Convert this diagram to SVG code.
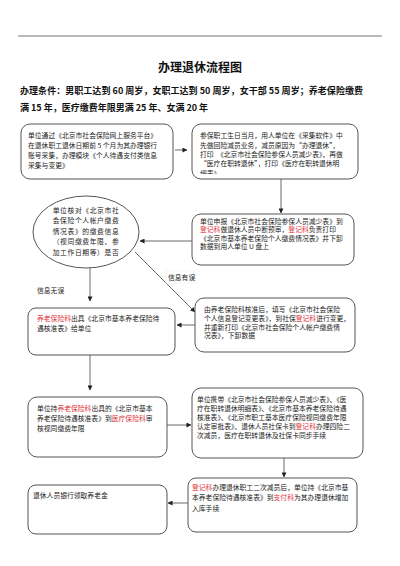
<svg xmlns="http://www.w3.org/2000/svg" width="400" height="566" viewBox="0 0 400 566">
<style>
.t{font-family:"Noto Sans CJK SC","Noto Sans",sans-serif;font-size:6.8px;fill:#222;}
.r{fill:#e0303a;}
.b{fill:#fff;stroke:#555;stroke-width:1;}
.c{stroke:#444;stroke-width:0.8;fill:none;marker-end:url(#ah);}
.h{font-family:"Noto Sans CJK SC","Noto Sans",sans-serif;font-weight:bold;fill:#111;}
</style>
<defs>
<marker id="ah" viewBox="0 0 6 6" refX="5.5" refY="3" markerWidth="5" markerHeight="5" orient="auto" markerUnits="userSpaceOnUse">
<path d="M0,0 L6,3 L0,6 Z" fill="#222"/>
</marker>
<clipPath id="c2"><rect x="193" y="124" width="165" height="50"/></clipPath>
</defs>
<rect width="400" height="566" fill="#fff"/>
<line x1="18" y1="36" x2="382" y2="36" stroke="#777" stroke-width="1"/>
<g id="title">
<text class="h" x="200" y="72" font-size="12" text-anchor="middle">办理退休流程图</text>
<text class="h" x="20" y="94" font-size="9" textLength="343">办理条件：男职工达到 60 周岁，女职工达到 50 周岁，女干部 55 周岁；养老保险缴费</text>
<text class="h" x="20" y="111" font-size="9">满 15 年，医疗缴费年限男满 25 年、女满 20 年</text>
</g>
<g id="connectors">
<line class="c" x1="175" y1="150" x2="187" y2="150"/>
<line class="c" x1="281" y1="179" x2="281" y2="213"/>
<line class="c" x1="192" y1="241" x2="140" y2="241"/>
<line class="c" x1="90" y1="268" x2="90" y2="301"/>
<line class="c" x1="135" y1="252" x2="195" y2="312"/>
<line class="c" x1="195" y1="325" x2="177" y2="325"/>
<line class="c" x1="90" y1="355" x2="90" y2="390"/>
<line class="c" x1="167" y1="425" x2="191" y2="425"/>
<line class="c" x1="284" y1="458" x2="284" y2="477"/>
<line class="c" x1="188" y1="503" x2="168" y2="503"/>
<rect x="166" y="271" width="28" height="12" fill="#fff" stroke="#eee" stroke-width="0.6"/>
<text class="t" x="168" y="279.5">信息有误</text>
<text class="t" x="37" y="293">信息无误</text>
</g>
<g id="n1">
<rect class="b" x="21" y="124" width="152" height="55" rx="9"/>
<text class="t" x="28" y="137.5">单位通过《北京市社会保险网上服务平台》</text>
<text class="t" x="28" y="147.5">在退休职工退休日期前 5 个月为其办理银行</text>
<text class="t" x="28" y="157.5">账号采集，办理模块《个人待遇支付类信息</text>
<text class="t" x="28" y="167.5">采集与变更》</text>
</g>
<g id="n2">
<rect class="b" x="192" y="124" width="166" height="55" rx="9"/>
<g clip-path="url(#c2)">
<text class="t" x="200" y="137.5">参保职工生日当月，用人单位在《采集软件》中</text>
<text class="t" x="200" y="147.5">先做回险减员业务，减员原因为“办理退休”，</text>
<text class="t" x="200" y="156.8">打印　《北京市社会保险参保人员减少表》，再做</text>
<text class="t" x="200" y="165.8">“医疗在职转退休”，打印《医疗在职转退休明</text>
<text class="t" x="200" y="176">细表》</text>
</g>
</g>
<g id="n3">
<rect class="b" x="192" y="214" width="162" height="51" rx="9"/>
<text class="t" x="200" y="223.5">单位申报《北京市社会保险参保人员减少表》到</text>
<text class="t" x="200" y="232"><tspan class="r">登记科</tspan>做退休人员中断预审，<tspan class="r">登记科</tspan>负责打印</text>
<text class="t" x="200" y="240.5">《北京市基本养老保险个人缴费情况表》并下卸</text>
<text class="t" x="200" y="249">数据到用人单位 U 盘上</text>
</g>
<g id="n4">
<ellipse class="b" cx="86" cy="232" rx="53" ry="36"/>
<text class="t" x="86" y="212.5" text-anchor="middle" letter-spacing="0.6">单位核对《北京市社</text>
<text class="t" x="86" y="223" text-anchor="middle" letter-spacing="0.6">会保险个人帐户缴费</text>
<text class="t" x="86" y="233.5" text-anchor="middle" letter-spacing="0.6">情况表》的缴费信息</text>
<text class="t" x="86" y="244" text-anchor="middle" letter-spacing="0.6">（视同缴费年限、参</text>
<text class="t" x="86" y="254.5" text-anchor="middle" letter-spacing="0.6">加工作日期等）是否</text>
</g>
<g id="n5">
<rect class="b" x="195" y="298" width="160" height="54" rx="9"/>
<text class="t" x="204" y="311.5">由养老保险科核准后，填写《北京市社会保险</text>
<text class="t" x="204" y="320.5">个人信息登记变更表》，到社保<tspan class="r">登记科</tspan>进行变更，</text>
<text class="t" x="204" y="329.5">并重新打印《北京市社会保险个人帐户缴费情</text>
<text class="t" x="204" y="338">况表》，下卸数据</text>
</g>
<g id="n6">
<rect class="b" x="28" y="308" width="147" height="47" rx="8"/>
<text class="t" x="37" y="320.5"><tspan class="r">养老保险科</tspan>出具《北京市基本养老保险待</text>
<text class="t" x="37" y="330.5">遇核准表》给单位</text>
</g>
<g id="n7">
<rect class="b" x="28" y="397" width="139" height="60" rx="9"/>
<text class="t" x="37" y="410.5">单位持<tspan class="r">养老保险科</tspan>出具的《北京市基本</text>
<text class="t" x="37" y="420.5">养老保险待遇核准表》到<tspan class="r">医疗保险科</tspan>审</text>
<text class="t" x="37" y="430.5">核视同缴费年限</text>
</g>
<g id="n8">
<rect class="b" x="192" y="388" width="171" height="70" rx="9"/>
<text class="t" x="197" y="401.5">单位携带《北京市社会保险参保人员减少表》、《医</text>
<text class="t" x="197" y="410.5">疗在职转退休明细表》、《北京市基本养老保险待遇</text>
<text class="t" x="197" y="419.5">核准表》、《北京市职工基本医疗保险视同缴费年限</text>
<text class="t" x="197" y="428.5">认定审批表》、退休人员社保卡到<tspan class="r">登记科</tspan>办理四险二</text>
<text class="t" x="197" y="437.5">次减员，医疗在职转退休及社保卡同步手续</text>
</g>
<g id="n9">
<rect class="b" x="188" y="478" width="169" height="54" rx="8"/>
<text class="t" x="192" y="489.5"><tspan class="r">登记科</tspan>办理退休职工二次减员后，单位持《北京市基</text>
<text class="t" x="192" y="500">本养老保险待遇核准表》到<tspan class="r">支付科</tspan>为其办理退休增加</text>
<text class="t" x="192" y="510.5">入库手续</text>
</g>
<g id="n10">
<rect class="b" x="28" y="485" width="139" height="49" rx="8"/>
<text class="t" x="33" y="497.5">退休人员银行领取养老金</text>
</g>
</svg>
